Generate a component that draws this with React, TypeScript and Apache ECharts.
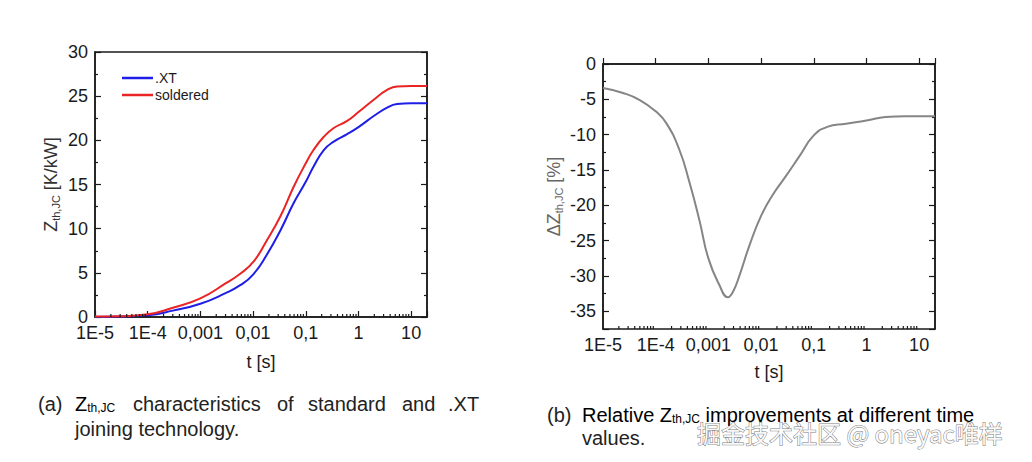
import React, { useEffect, useRef } from "react";
import * as echarts from "echarts";

// (a) Zth,JC curves of the two joining technologies
const timeZth = [1e-5, 3e-5, 1e-4, 3e-4, 1e-3, 3e-3, 5.7e-3, 0.01, 0.018, 0.033, 0.059, 0.1, 0.14, 0.22, 0.34, 0.61, 1, 1.95, 3.5, 5.4, 10, 20];
const zthXT = [0, 0.05, 0.2, 0.72, 1.5, 2.7, 3.6, 4.8, 7.0, 9.8, 12.9, 15.3, 17, 18.9, 19.85, 20.7, 21.5, 22.75, 23.7, 24.1, 24.2, 24.2];
const zthSoldered = [0.05, 0.08, 0.3, 1.05, 2.1, 3.8, 4.9, 6.2, 8.6, 11.4, 14.75, 17.4, 18.9, 20.4, 21.4, 22.2, 23.2, 24.6, 25.7, 26.1, 26.15, 26.15];

// (b) relative improvement
const timeDelta = [1e-5, 2.4e-5, 5e-5, 1e-4, 1.6e-4, 2.8e-4, 4.4e-4, 6.8e-4, 1e-3, 1.6e-3, 2.35e-3, 2.9e-3, 3.9e-3, 6e-3, 0.01, 0.0167, 0.03, 0.054, 0.1, 0.18, 0.41, 1, 2.3, 5.6, 20];
const deltaZth = [-3.4, -4.1, -5.1, -6.7, -8.4, -12.1, -16.8, -22.2, -27.5, -31.2, -33.0, -32.3, -29.9, -25.7, -21.5, -18.5, -15.8, -13.0, -10.1, -8.9, -8.45, -8.0, -7.5, -7.4, -7.4];

// time axis
const tickExponents = [-5, -4, -3, -2, -1, 0, 1];
const tickLabels = ["1E-5", "1E-4", "0,001", "0,01", "0,1", "1", "10"];
const minorDecades = [1e-5, 1e-4, 1e-3, 1e-2, 1e-1, 1, 10];
const minorSteps = [2, 3, 4, 5, 6, 7, 8, 9];

const T_MIN = 1e-5;
const T_MAX = 20;
const INK = "#1a1a1a";
const FONT = "'Liberation Sans', Arial, sans-serif";

const minorTicks: number[] = [];
minorDecades.forEach((d) => minorSteps.forEach((s) => { const t = d * s; if (t < T_MAX) minorTicks.push(t); }));

const timeLabel = (v: number) => {
  const l = Math.log10(v);
  const e = Math.round(l);
  if (Math.abs(l - e) > 1e-6) return "";
  const i = tickExponents.indexOf(e);
  return i >= 0 ? tickLabels[i] : "";
};

const sub = { fontSize: 11, fontFamily: FONT, padding: [9, 0, 0, 0] };

function xAxisFor(gridIndex: number, nameGap: number) {
  return {
    type: "log",
    gridIndex,
    min: T_MIN,
    max: T_MAX,
    logBase: 10,
    name: "t [s]",
    nameLocation: "middle",
    nameGap,
    nameTextStyle: { fontSize: 18, color: INK, fontFamily: FONT },
    axisLine: { show: true, lineStyle: { color: INK, width: 1.5 } },
    axisTick: { show: true, inside: true, length: 6, lineStyle: { color: INK, width: 1.2 } },
    axisLabel: { fontSize: 18, color: INK, margin: 7, formatter: timeLabel, fontFamily: FONT },
    splitLine: { show: false },
  };
}

function yAxisFor(gridIndex: number, min: number, max: number, mirrored: boolean, extra: any) {
  return {
    type: "value",
    gridIndex,
    min,
    max,
    position: mirrored ? "right" : "left",
    axisLine: { show: true, lineStyle: { color: INK, width: 1.5 } },
    axisTick: { show: true, inside: true, length: 6, lineStyle: { color: INK, width: 1.2 } },
    minorTick: { show: true, splitNumber: 2, length: 3, lineStyle: { color: INK, width: 1.2 } },
    axisLabel: mirrored ? { show: false } : { fontSize: 18, color: INK, margin: 7, fontFamily: FONT, formatter: (v: number) => (v % 5 === 0 ? String(v) : "") },
    splitLine: { show: false },
    minorSplitLine: { show: false },
    ...extra,
  };
}

function minorTickSeries(xAxisIndex: number, yAxisIndex: number, yBase: number) {
  return {
    type: "custom",
    xAxisIndex,
    yAxisIndex,
    silent: true,
    clip: false,
    z: 5,
    data: minorTicks.map((t) => [t, yBase]),
    renderItem: (_p: any, api: any) => {
      const pt = api.coord([api.value(0), api.value(1)]);
      return {
        type: "line",
        shape: { x1: pt[0], y1: pt[1], x2: pt[0], y2: pt[1] - 3 },
        style: { stroke: INK, lineWidth: 1.2 },
      };
    },
  };
}

const captionStyle = { fontSize: 20, fill: "#222", fontFamily: FONT };
const word = (text: string, x: number, y: number) => ({
  type: "text",
  x,
  y,
  style: { text, ...captionStyle, verticalAlign: "middle" },
});
const zthWord = (x: number, y: number) => ({
  type: "text",
  x,
  y,
  style: {
    text: "{z|Z}{s|th,JC}",
    verticalAlign: "middle",
    rich: {
      z: { fontSize: 20, fontFamily: FONT, color: "#222" },
      s: { fontSize: 12, fontFamily: FONT, color: "#222", padding: [8, 0, 0, 0] },
    },
  },
});

export default function App() {
  const ref = useRef<HTMLDivElement>(null);
  useEffect(() => {
    if (!ref.current) return;
    const chart = echarts.init(ref.current, undefined, { renderer: "svg" });
    chart.setOption({
      animation: false,
      backgroundColor: "#ffffff",
      textStyle: { fontFamily: FONT },
      grid: [
        { left: 95, top: 52, width: 332, height: 265, show: true, borderColor: INK, borderWidth: 1.5, backgroundColor: "transparent" },
        { left: 603, top: 64, width: 332, height: 265, show: true, borderColor: INK, borderWidth: 1.5, backgroundColor: "transparent" },
      ],
      legend: {
        data: [".XT", "soldered"],
        orient: "vertical",
        left: 117,
        top: 66,
        icon: "rect",
        itemWidth: 31,
        itemHeight: 2.5,
        itemGap: 3,
        textStyle: { fontSize: 14, color: INK, padding: [0, 0, 0, -3] },
      },
      xAxis: [xAxisFor(0, 36), xAxisFor(1, 34)],
      yAxis: [
        yAxisFor(0, 0, 30, false, {
          interval: 5,
          name: "{z|Z}{s|th,JC}{z| [K/kW]}",
          nameLocation: "middle",
          nameGap: 34,
          nameTextStyle: { rich: { z: { fontSize: 18, color: "#333", fontFamily: FONT }, s: { ...sub, color: "#333" } } },
        }),
        yAxisFor(0, 0, 30, true, { interval: 5 }),
        yAxisFor(1, -37.5, 0, false, {
          splitNumber: 8,
          name: "{z|ΔZ}{s|th,JC}{z| [%]}",
          nameLocation: "middle",
          nameGap: 39,
          nameTextStyle: { rich: { z: { fontSize: 18, color: "#666", fontFamily: FONT }, s: { ...sub, color: "#666" } } },
        }),
        yAxisFor(1, -37.5, 0, true, { splitNumber: 8 }),
      ],
      series: [
        {
          name: ".XT",
          type: "line",
          xAxisIndex: 0,
          yAxisIndex: 0,
          data: timeZth.map((t, i) => [t, zthXT[i]]),
          smooth: 0.5,
          symbol: "none",
          lineStyle: { color: "#1e1ee6", width: 2 },
          itemStyle: { color: "#1e1ee6" },
          z: 3,
        },
        {
          name: "soldered",
          type: "line",
          xAxisIndex: 0,
          yAxisIndex: 0,
          data: timeZth.map((t, i) => [t, zthSoldered[i]]),
          smooth: 0.5,
          symbol: "none",
          lineStyle: { color: "#ea2424", width: 2 },
          itemStyle: { color: "#ea2424" },
          z: 4,
        },
        {
          name: "ΔZth,JC",
          type: "line",
          xAxisIndex: 1,
          yAxisIndex: 2,
          data: timeDelta.map((t, i) => [t, deltaZth[i]]),
          smooth: 0.5,
          symbol: "none",
          lineStyle: { color: "#858585", width: 2 },
          itemStyle: { color: "#858585" },
        },
        minorTickSeries(0, 0, 0),
        minorTickSeries(1, 2, -37.5),
      ],
      graphic: [
        word("(a)", 38, 404),
        zthWord(75, 404),
        word("characteristics", 133, 404),
        word("of", 277, 404),
        word("standard", 308, 404),
        word("and", 402, 404),
        word(".XT", 448, 404),
        word("joining technology.", 75, 429),
        word("(b)", 547, 415),
        {
          type: "text",
          x: 582,
          y: 415,
          style: {
            text: "{z|Relative Z}{s|th,JC}{z| improvements at different time}",
            verticalAlign: "middle",
            rich: {
              z: { fontSize: 20, fontFamily: FONT, color: "#222" },
              s: { fontSize: 12, fontFamily: FONT, color: "#222", padding: [8, 0, 0, 0] },
            },
          },
        },
        word("values.", 582, 438),
        {
          type: "text",
          x: 697,
          y: 432,
          z: 100,
          style: {
            text: "掘金技术社区 @ oneyac唯样",
            fontSize: 24,
            fontFamily: "'Noto Sans CJK SC', sans-serif",
            fill: "rgba(255,255,255,0.92)",
            stroke: "rgba(90,90,90,0.8)",
            lineWidth: 1,
            verticalAlign: "middle",
          },
        },
      ],
    });
    return () => chart.dispose();
  }, []);
  return (
    <div
      ref={ref}
      style={{ position: "fixed", left: 0, top: 0, width: 1032, height: 462, background: "#fff" }}
    />
  );
}
